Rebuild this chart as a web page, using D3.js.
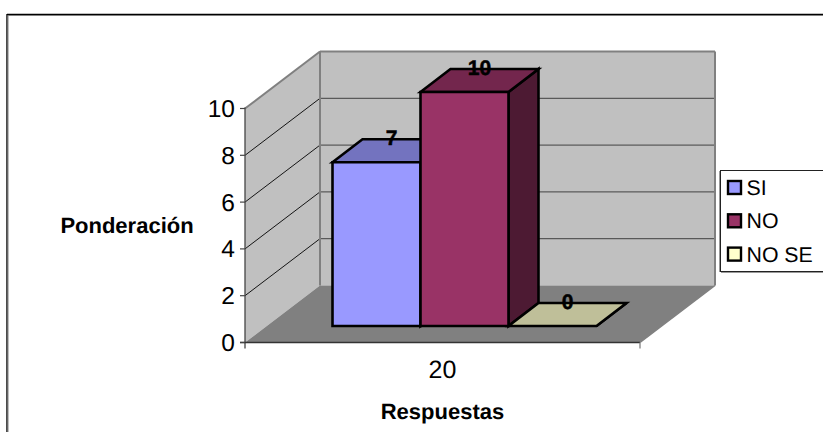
<!DOCTYPE html>
<html><head><meta charset="utf-8">
<style>html,body{margin:0;padding:0;background:#fff}svg{display:block}text{font-family:"Liberation Sans",Arial,sans-serif;fill:#000;text-rendering:geometricPrecision}</style>
<script src="https://cdn.jsdelivr.net/npm/d3@7/dist/d3.min.js"></script></head><body>
<svg id="c" width="823" height="432"></svg>
<script>
const categories = ["20"];
const seriesNames = ["SI", "NO", "NO SE"];
const seriesValues = [7, 10, 0];
const seriesColors = ["#9999ff", "#993366", "#ffffcc"];
const topColors = ["#7373bf", "#73264d", "#bfbf99"];
const sideColors = ["#4d4d80", "#4d1a33", "#80806a"];
const yTicks = [0, 2, 4, 6, 8, 10];
const yTitle = "Ponderación", xTitle = "Respuestas";

const svg = d3.select("#c");
const y = d3.scaleLinear().domain([0, 10]).range([342.5, 108.5]);
const x0 = d3.scaleBand().domain(categories).range([245, 640]).paddingInner(0).paddingOuter(0.2);
const x = d3.scaleBand().domain(seriesNames).range([332.5, 596.5]);
// depth vector of the 3D box
const D = { x: 75, y: -57 };
const Bd = { x: 30, y: -23 };   // bar depth
const Bo = { x: 0, y: -16.5 };  // bar front lifted from floor front edge
const line = d3.line();
const path = (pts, fill, stroke, w) => svg.append("path").attr("d", line(pts) + "Z").attr("fill", fill).attr("stroke", stroke || "none").attr("stroke-width", w || 0).attr("stroke-linejoin", "miter");
const seg = (a, b, stroke, w) => svg.append("line").attr("x1", a[0]).attr("y1", a[1]).attr("x2", b[0]).attr("y2", b[1]).attr("stroke", stroke).attr("stroke-width", w);

// outer frame
seg([7, 14.5], [823, 14.5], "#000", 1.4); seg([7, 15.5], [823, 15.5], "#808080", 1);
seg([7, 14], [7, 432], "#000", 1.4); seg([8, 15], [8, 432], "#808080", 1);

const xL = 245, xR = 640, y0 = y(0), yT = y(10);
// walls
path([[xL + D.x, yT + D.y], [xR + D.x, yT + D.y], [xR + D.x, y0 + D.y], [xL + D.x, y0 + D.y]], "#c0c0c0");
path([[xL, y0], [xL + D.x, y0 + D.y], [xL + D.x, yT + D.y], [xL, yT]], "#c0c0c0");
path([[xL, y0], [xR, y0], [xR + D.x, y0 + D.y], [xL + D.x, y0 + D.y]], "#808080");
// gridlines
yTicks.filter(t => t > 0 && t < 10).forEach(t => {
  seg([xL, y(t)], [xL + D.x, y(t) + D.y], "#000", 0.9);
  seg([xL + D.x, y(t) + D.y], [xR + D.x, y(t) + D.y], "#333", 0.9);
});
// wall outlines
seg([xL, yT], [xL + D.x, yT + D.y], "#808080", 2);
seg([xL + D.x, yT + D.y], [xR + D.x, yT + D.y], "#808080", 2);
seg([xL + D.x, yT + D.y], [xL + D.x, y0 + D.y], "#808080", 2);
seg([xR + D.x, yT + D.y], [xR + D.x, y0 + D.y], "#808080", 2);
seg([xR, y0], [xR + D.x, y0 + D.y], "#808080", 1.5);

// axes
seg([xL, yT - 1], [xL, y0 + 6], "#444", 1.3);
seg([xL - 5, y0], [xR, y0], "#333", 1.5);
seg([xR, y0], [xR, y0 + 6], "#808080", 1.3);
yTicks.forEach(t => {
  seg([xL - 5, y(t)], [xL, y(t)], "#444", 1.2);
  svg.append("text").attr("x", 235).attr("y", y(t) + 8.5).attr("text-anchor", "end").attr("font-size", 24.5).text(t);
});
svg.append("text").attr("x", x0("20") + x0.bandwidth() / 2).attr("y", 378).attr("text-anchor", "middle").attr("font-size", 25).text(categories[0]);
svg.append("text").attr("x", 127).attr("y", 233).attr("text-anchor", "middle").attr("font-size", 22).attr("font-weight", "bold").text(yTitle);
svg.append("text").attr("x", 442.5).attr("y", 419).attr("text-anchor", "middle").attr("font-size", 22).attr("font-weight", "bold").text(xTitle);

// bars, drawn back to front by series order
const base = y(0) + Bo.y;
seriesNames.forEach((n, i) => {
  const v = seriesValues[i], l = x(n), r = l + x.bandwidth(), t = base - (y(0) - y(v));
  path([[r, t], [r + Bd.x, t + Bd.y], [r + Bd.x, base + Bd.y], [r, base]], sideColors[i], "#000", 2.6);
  path([[l, t], [l + Bd.x, t + Bd.y], [r + Bd.x, t + Bd.y], [r, t]], topColors[i], "#000", 2.6);
  if (v > 0) path([[l, t], [r, t], [r, base], [l, base]], seriesColors[i], "#000", 2.6);
});
seriesNames.forEach((n, i) => {
  const v = seriesValues[i], t = base - (y(0) - y(v));
  svg.append("text").attr("x", x(n) + x.bandwidth() / 2 + Bd.x / 2).attr("y", t + Bd.y + 6)
    .attr("text-anchor", "middle").attr("font-size", 21).attr("font-weight", "bold")
    .attr("stroke", "#000").attr("stroke-width", 0.5).text(v);
});

// legend
svg.append("rect").attr("x", 720.5).attr("y", 170.5).attr("width", 110).attr("height", 101).attr("fill", "#fff").attr("stroke", "#222").attr("stroke-width", 1);
seg([721, 272.5], [823, 272.5], "#999", 1);
seg([719.5, 171], [719.5, 272], "#999", 1);
seriesNames.forEach((n, i) => {
  const cy = 187.5 + i * 33.3;
  svg.append("rect").attr("x", 728).attr("y", cy - 6.5).attr("width", 13).attr("height", 13).attr("fill", seriesColors[i]).attr("stroke", "#000").attr("stroke-width", 2.4);
  svg.append("text").attr("x", 746.5).attr("y", cy + 7.5).attr("font-size", 21.3).text(n);
});
</script></body></html>
